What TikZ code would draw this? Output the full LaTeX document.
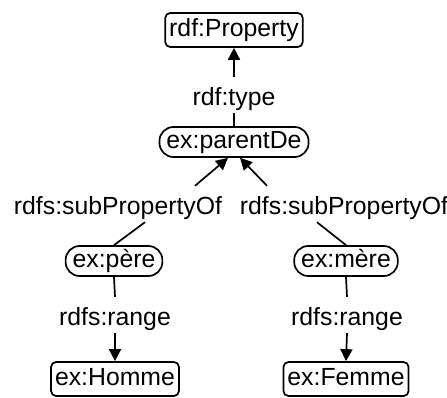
\documentclass[tikz,border=0pt]{standalone}
\usepackage{fontspec}
\setmainfont{Liberation Sans}
\usepackage{tikz}
\usetikzlibrary{arrows.meta}
\tikzstyle{resbox} = [draw=black, line width=1.7pt, rectangle, rounded corners=5pt,
inner xsep=4pt, inner ysep=6pt, text height=17pt, text depth=5pt]
\tikzstyle{propbox} = [draw=black, line width=1.7pt, rectangle, rounded corners=14pt,
inner xsep=7pt, inner ysep=4pt, text height=17pt, text depth=5pt]
\tikzstyle{edgelabel} = [inner sep=3pt, text height=25pt, text depth=5pt]
\tikzstyle{link} = [line width=1.7pt]
\tikzstyle{linkarrow} = [line width=1.7pt, -{Triangle[length=12pt,width=12pt]}]

\begin{document}
\begin{tikzpicture}[x=1pt, y=-1pt, font=\fontsize{24.8}{28}\selectfont]
        \useasboundingbox (0,0) rectangle (447,397);
        % nodes
        \node [resbox] (property) at (234,30) {rdf:Property};
        \node [edgelabel] (type) at (234,95) {rdf:type};
        \node [propbox] (parentde) at (234,142) {ex:parentDe};
        \node [edgelabel] (subleft) at (118,204) {rdfs:subPropertyOf};
        \node [edgelabel] (subright) at (344,204) {rdfs:subPropertyOf};
        \node [propbox] (pere) at (114,261) {ex:père};
        \node [propbox] (mere) at (346,261) {ex:mère};
        \node [edgelabel] (rangeleft) at (115,315) {rdfs:range};
        \node [edgelabel] (rangeright) at (347,315) {rdfs:range};
        \node [resbox] (homme) at (115,379) {ex:Homme};
        \node [resbox] (femme) at (346,379) {ex:Femme};
        % edges
        \draw [link] (parentde.north) -- (type.south);
        \draw [linkarrow] (type.north) -- (property.south);
        \draw [linkarrow] ([xshift=77pt]subleft.north) -- ([xshift=-6pt]parentde.south);
        \draw [linkarrow] ([xshift=-77pt]subright.north) -- ([xshift=6pt]parentde.south);
        \draw [link] ([xshift=27pt]subleft.south) -- (pere.north);
        \draw [link] ([xshift=-27pt]subright.south) -- (mere.north);
        \draw [link] (pere.south) -- (rangeleft.north);
        \draw [linkarrow] (rangeleft.south) -- (homme.north);
        \draw [link] (mere.south) -- (rangeright.north);
        \draw [linkarrow] (rangeright.south) -- (femme.north);
    \end{tikzpicture}
\end{document}
